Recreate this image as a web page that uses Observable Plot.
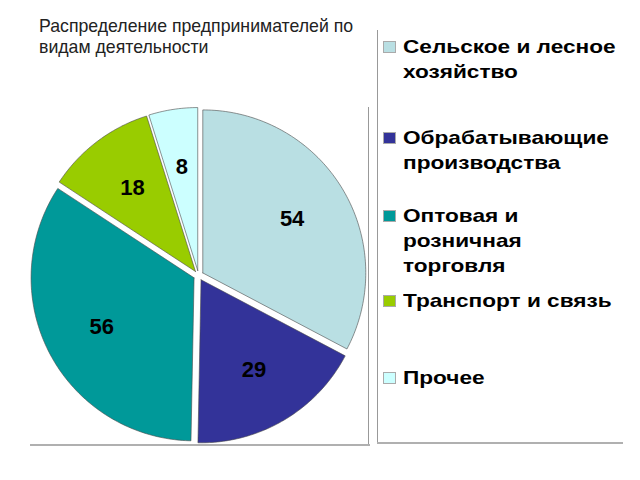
<!DOCTYPE html>
<html>
<head>
<meta charset="utf-8">
<script src="https://cdn.jsdelivr.net/npm/d3@7"></script>
<script src="https://cdn.jsdelivr.net/npm/@observablehq/plot@0.6"></script>
<style>
  html, body { margin: 0; padding: 0; background: #fff; }
  #wrap { position: relative; width: 640px; height: 480px; overflow: hidden; font-family: "Liberation Sans", Arial, sans-serif; }
  #chart { position: absolute; left: 0; top: 0; }
  #title { position: absolute; left: 39px; top: 16px; font-size: 17.7px; line-height: 21px; color: #222; z-index: 2; white-space: nowrap; }
  .leg { position: absolute; left: 383px; font-size: 19px; line-height: 25px; font-weight: bold; color: #000; white-space: pre-line; z-index: 2; }
  .leg .sw { position: absolute; left: 0; width: 13px; height: 12px; border: 1px solid #aaa; box-sizing: border-box; }
  .leg .tx { position: absolute; left: 20px; width: 250px; transform: scaleX(1.19); transform-origin: 0 0; }
  .line { position: absolute; z-index: 1; }
</style>
</head>
<body>
<div id="wrap">
  <div id="chart"></div>
  <div id="title">Распределение предпринимателей по<br>видам деятельности</div>
  <div class="line" style="left:368px; top:107px; width:1px; height:338px; background:#999;"></div>
  <div class="line" style="left:30px; top:444px; width:340px; height:2px; background:#b0b0b0;"></div>
  <div class="line" style="left:377px; top:30px; width:1px; height:414px; background:#999;"></div>
  <div class="line" style="left:377px; top:442px; width:246px; height:2px; background:#b0b0b0;"></div>
</div>
<script>
// ---- data ----
const legendLabels = [
  "Сельское и лесное\nхозяйство",
  "Обрабатывающие\nпроизводства",
  "Оптовая и\nрозничная\nторговля",
  "Транспорт и связь",
  "Прочее"
];
const categories = legendLabels.map(s => s.replace(/\n/g, " "));
const values = [54, 29, 56, 18, 8];
const colors = ["#b9dfe3", "#333399", "#009999", "#99cc00", "#ccffff"];

// ---- layout constants (pixels) ----
const W = 640, H = 480;
const cx = 198, cy = 275, R = 163;   // pie centre and radius
const explode = 5 / R;               // explosion offset (unit radius)
const labelR = 0.64;

const arcs = d3.pie().sort(null).value(d => d.value)(
  categories.map((name, i) => ({name, value: values[i]}))
);

// slice polygons in unit coordinates (y up)
const poly = [];
const labels = [];
for (const a of arcs) {
  const mid = (a.startAngle + a.endAngle) / 2;
  const ox = explode * Math.sin(mid), oy = explode * Math.cos(mid);
  const pts = [[ox, oy]];
  const n = Math.max(2, Math.ceil((a.endAngle - a.startAngle) / (Math.PI / 180)));
  for (let k = 0; k <= n; k++) {
    const t = a.startAngle + (a.endAngle - a.startAngle) * k / n;
    pts.push([ox + Math.sin(t), oy + Math.cos(t)]);
  }
  pts.push([ox, oy]);
  pts.forEach(([x, y], j) => poly.push({name: a.data.name, x, y, j}));
  labels.push({name: a.data.name, value: a.data.value,
    x: ox + labelR * Math.sin(mid), y: oy + labelR * Math.cos(mid)});
}

const plot = Plot.plot({
  width: W, height: H,
  margin: 0,
  x: {domain: [-cx / R, (W - cx) / R], range: [0, W], axis: null},
  y: {domain: [-(H - cy) / R, cy / R], range: [H, 0], axis: null},
  color: {domain: categories, range: colors},
  style: {background: "transparent"},
  marks: [
    Plot.line(poly, {x: "x", y: "y", z: "name", fill: "name", stroke: "#4a4a4a", strokeWidth: 0.6, strokeLinejoin: "round", curve: "linear"}),
    Plot.text(labels, {x: "x", y: "y", text: d => String(d.value), fontSize: 22, fontWeight: "bold", fill: "#000", fontFamily: "Liberation Sans, Arial, sans-serif"})
  ]
});
document.getElementById("chart").appendChild(plot);

// ---- legend (HTML) ----
const legTops = [34, 125, 203, 288, 365];
const wrap = document.getElementById("wrap");
legendLabels.forEach((lab, i) => {
  const d = document.createElement("div");
  d.className = "leg";
  d.style.top = legTops[i] + "px";
  const sw = document.createElement("div");
  sw.className = "sw";
  sw.style.top = "7px";
  sw.style.background = colors[i];
  const tx = document.createElement("div");
  tx.className = "tx";
  tx.textContent = lab;
  d.appendChild(sw); d.appendChild(tx);
  wrap.appendChild(d);
});
</script>
</body>
</html>
